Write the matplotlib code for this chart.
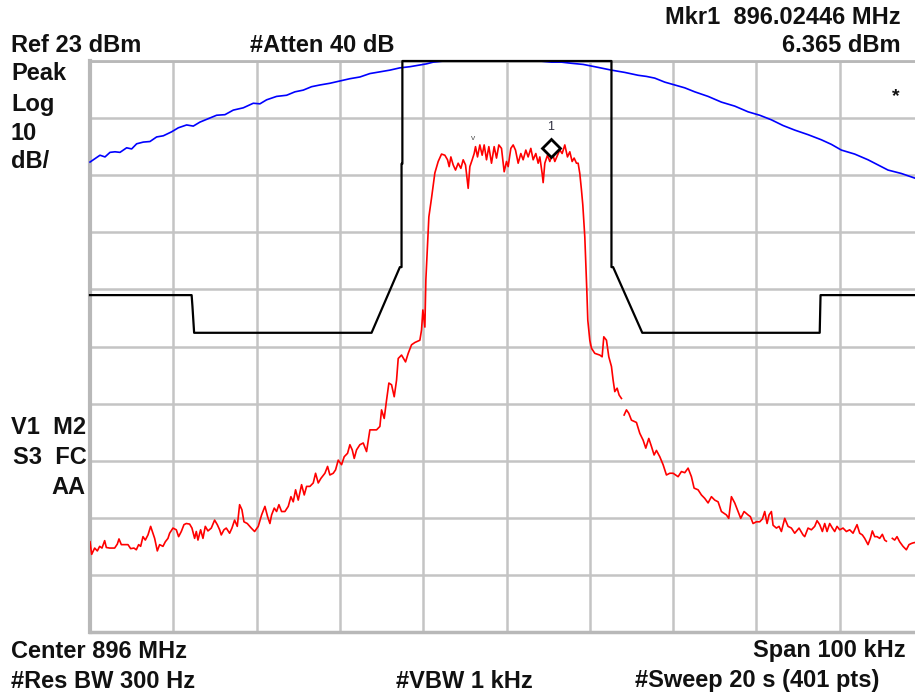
# -*- coding: utf-8 -*-
"""
Spectrum analyzer screen: channel trace, limit mask and max-hold sweep.
"""

import matplotlib as mpl
from matplotlib import pyplot as plt

FIGSIZE = [9.15, 6.96]
DPI = 100
RCPARAMS = {
    "font.family": ["Liberation Sans", "DejaVu Sans"],
    "font.weight": "bold",
    "font.size": 17,
}
GAP = float("nan")

# offset from center (kHz) and level (dBm)
BLUE_FREQ = [-50.0, -49.4, -48.8, -48.2, -47.6, -47.0, -46.4, -45.6, -45.0, -44.4,
             -43.6, -42.8, -42.0, -41.2, -40.2, -39.4, -38.4, -37.6, -36.8, -35.8,
             -34.8, -33.8, -32.8, -31.6, -30.4, -29.6, -28.8, -27.6, -26.4, -25.4,
             -24.4, -23.4, -22.4, -21.2, -20.0, -18.8, -17.6, -16.4, -15.2, -14.0,
             -12.8, -11.6, -10.4, -9.6, -8.8, -7.5, 0.0, 4.0, 5.4, 6.6,
             7.8, 9.2, 10.6, 11.6, 12.6, 14.2, 15.8, 16.8, 17.8, 19.0,
             20.2, 21.4, 22.6, 24.2, 25.8, 27.4, 29.0, 30.4, 31.8, 33.2,
             34.6, 36.2, 37.8, 39.0, 40.2, 41.8, 43.4, 44.6, 45.8, 47.4,
             49.0, 50.0]
BLUE_LEVEL = [5.3, 5.9, 6.5, 6.2, 7.0, 7.1, 7.0, 7.8, 7.6, 8.5,
              8.8, 8.9, 9.7, 9.9, 10.6, 11.3, 11.8, 11.6, 12.3, 12.9,
              13.5, 13.6, 14.4, 14.8, 15.6, 15.5, 16.2, 16.8, 17.0, 17.6,
              17.9, 18.5, 18.8, 19.1, 19.5, 19.9, 20.2, 20.8, 21.1, 21.4,
              21.8, 22.0, 22.3, 22.5, 22.8, 23.0, 23.0, 23.0, 22.8, 22.8,
              22.6, 22.4, 22.0, 21.7, 21.4, 21.0, 20.5, 20.3, 20.0, 19.3,
              18.8, 18.3, 17.6, 16.8, 15.8, 15.1, 14.1, 13.5, 12.7, 11.7,
              10.9, 10.1, 9.2, 8.4, 7.4, 6.7, 5.7, 4.8, 3.9, 3.3,
              2.5, 2.0]

RED_FREQ = [
    # lower noise floor
    -50.0, -49.8, -49.44, -49.12, -48.84, -48.56, -48.24, -48.04, -47.64, -47.04,
    -46.72, -46.52, -46.24, -45.84, -45.44, -45.12, -44.72, -44.44, -44.16, -43.92,
    -43.64, -43.36, -43.04, -42.72, -42.44, -42.24, -41.92, -41.64, -41.24, -40.96,
    -40.64, -40.44, -40.04, -39.64, -39.36, -39.04, -38.72, -38.44, -38.04, -37.76,
    -37.44, -37.24, -37.04, -36.72, -36.44, -36.16, -35.84, -35.44, -35.04, -34.72,
    -34.44, -34.24, -33.92, -33.64, -33.24, -32.96, -32.64, -32.32, -32.04, -31.76,
    -31.52, -31.12, -30.64, -30.24, -29.8,
    # lower skirt
    -29.4, -29.0, -28.68, -28.4, -28.2, -27.88, -27.6, -27.32, -27.0, -26.6,
    -26.2, -25.88, -25.6, -25.32, -25.0, -24.6, -24.28, -24.0, -23.6, -23.2,
    -22.92, -22.6, -22.28, -21.8, -21.48, -21.2, -20.8, -20.52, -20.2, -19.8,
    -19.48, -19.08, -18.8, -18.52, -18.28, -18.0, -17.6, -17.2, -16.8, -16.4,
    -16.0, -15.6, -15.2, -15.0, -14.68, -14.4, -14.12, -13.8, -13.48, -13.2,
    -13.0, -12.6, -12.12, -11.8, -11.4, -11.0, -10.4,
    # rising edge
    -10.2, -10.04, -9.8, -9.68, -9.32,
    # channel top
    -9.0, -8.6, -8.2, -7.8, -7.4, -7.08, -6.88, -6.68, -6.4, -6.12,
    -5.8, -5.48, -5.2, -4.92, -4.72, -4.6, -4.4, -4.12, -3.88, -3.72,
    -3.48, -3.2, -2.92, -2.68, -2.4, -2.12, -1.8, -1.48, -1.2, -0.92,
    -0.6, -0.28, 0.0, 0.2, 0.52, 0.8, 1.08, 1.4, 1.72, 2.0,
    2.32, 2.6, 2.92, 3.2, 3.52, 3.8, 4.0, 4.28, 4.4, 4.6,
    4.92, 5.2, 5.52, 5.8, 6.12, 6.4, 6.68, 7.0, 7.32, 7.6,
    7.88, 8.12, 8.4, 8.6, 8.8, 9.0,
    # falling edge
    9.16, 9.4, 9.64, 9.76, 10.0,
    # upper skirt
    10.2, 10.6, 11.2, 11.48, 11.68, 12.0, 12.28, 12.6, 12.8, 13.0,
    13.28, 13.52, 13.8, GAP, 14.12, 14.4, 14.68, 15.0, 15.6, 16.0,
    16.4, 16.72, 17.08, 17.4, 17.72, 18.0, 18.4, 18.8, 19.2, 19.6,
    20.0, 20.6, 21.0, 21.4, 21.8, 22.2, 22.52, 23.0, 23.4, 23.8,
    24.2, 24.6, 25.0, 25.4, 25.8, 26.4, 26.68, 27.0, 27.4, 27.8,
    28.12, 28.52,
    # upper noise floor
    29.0, 29.28, 29.6, 30.0, 30.4, 30.72, 31.0, 31.28, 31.52, 31.8,
    32.0, 32.4, 32.72, 33.0, 33.4, 33.8, 34.2, 34.6, 35.12, 35.6,
    35.8, 36.2, 36.6, 37.0, 37.28, 37.6, 37.92, 38.2, 38.48, 38.8,
    39.12, 39.4, 39.68, 40.0, 40.4, 40.8, 41.2, 41.6, 42.08, 42.4,
    42.72, 43.0, 43.4, 43.68, 43.92, 44.2, 44.48, 44.8, 45.12, 45.4,
    45.6, GAP, 46.32, 46.6, 46.88, 47.2, 47.6, 48.0, 48.32, 48.6,
    48.8, 50.0,
]
RED_LEVEL = [
    -61.2, -63.4, -62.3, -62.8, -62.0, -62.3, -61.0, -62.2, -62.3, -62.3,
    -61.6, -60.7, -61.7, -61.7, -61.7, -62.4, -62.3, -62.6, -61.7, -62.0,
    -60.3, -60.9, -60.0, -58.5, -59.7, -60.6, -62.8, -61.7, -62.0, -61.2,
    -60.6, -59.7, -58.8, -59.1, -60.3, -59.4, -58.2, -58.0, -58.1, -58.8,
    -60.6, -59.4, -60.9, -59.1, -60.6, -58.5, -59.3, -58.8, -57.4, -58.2,
    -59.1, -60.0, -59.1, -58.8, -59.7, -58.8, -57.4, -58.5, -54.7, -55.6,
    -57.7, -58.0, -58.8, -59.4, -58.5,
    -56.5, -55.0, -56.8, -58.0, -56.5, -55.3, -55.9, -54.7, -55.9, -55.9,
    -55.0, -53.3, -54.2, -52.1, -53.9, -51.2, -53.0, -51.5, -51.5, -50.9,
    -49.2, -50.9, -50.1, -49.2, -48.0, -49.5, -49.2, -48.6, -46.9, -47.7,
    -46.3, -45.7, -44.2, -45.1, -46.6, -45.1, -44.2, -43.9, -45.4, -41.6,
    -41.6, -41.6, -41.0, -38.1, -39.6, -36.4, -33.4, -33.7, -35.8, -32.9,
    -29.1, -28.5, -29.7, -28.2, -26.7, -26.3, -25.9,
    -24.1, -20.6, -23.6, -15.3, -4.3,
    -1.0, 3.4, 5.4, 6.7, 6.5, 5.7, 4.5, 6.2, 4.8, 3.9,
    5.1, 4.2, 5.7, 4.8, 2.2, 0.7, 4.5, 5.7, 6.8, 8.0,
    6.2, 8.3, 6.5, 8.3, 5.7, 8.0, 5.1, 8.0, 6.0, 8.3,
    7.7, 3.6, 5.4, 4.5, 7.7, 8.3, 7.4, 5.1, 6.8, 5.7,
    7.4, 6.2, 7.7, 5.7, 6.8, 5.1, 6.2, 3.3, 1.7, 5.1,
    6.5, 5.4, 6.8, 5.4, 6.5, 7.4, 6.8, 8.3, 6.2, 7.1,
    5.4, 6.0, 5.1, 5.1, 3.3, 0.4,
    -2.2, -7.8, -17.1, -22.4, -25.9,
    -27.3, -28.2, -28.5, -28.8, -25.3, -25.9, -28.8, -30.5, -32.9, -34.9,
    -34.3, -35.5, -36.1, GAP, -39.0, -38.1, -38.7, -39.9, -40.3, -42.2,
    -43.4, -44.8, -43.1, -44.5, -46.0, -45.2, -46.3, -47.7, -49.5, -49.2,
    -49.2, -49.8, -48.9, -49.1, -48.3, -49.8, -51.8, -52.1, -53.0, -53.6,
    -54.4, -53.3, -53.9, -54.2, -55.9, -56.5, -57.1, -53.3, -54.4, -55.9,
    -57.1, -55.9,
    -56.5, -56.8, -58.0, -57.7, -57.7, -57.2, -55.9, -58.0, -56.5, -55.9,
    -58.3, -58.8, -58.5, -59.4, -57.1, -58.5, -58.8, -59.7, -58.8, -60.0,
    -60.3, -58.8, -59.1, -58.5, -57.5, -58.2, -59.4, -58.0, -59.4, -58.0,
    -58.8, -59.4, -58.5, -59.1, -58.8, -59.4, -59.1, -59.7, -58.2, -59.7,
    -60.0, -60.6, -61.7, -60.6, -59.3, -60.3, -60.3, -60.6, -59.9, -60.9,
    -61.1, GAP, -60.6, -60.9, -60.3, -61.2, -62.0, -62.6, -61.7, -61.5,
    -61.4, -61.0,
]

MASK_FREQ = [-50.0, -37.8, -37.7, -37.5, -16.2, -12.8, -12.6, -12.6, -12.5, -12.5,
             12.6, 12.6, 12.8, 16.3, 37.6, 37.7, 50.0]
MASK_LEVEL = [-18.0, -18.0, -20.0, -24.6, -24.6, -13.1, -13.1, 5.0, 5.0, 23.0,
              23.0, -13.1, -13.1, -24.6, -24.6, -18.0, -18.0]

MARKER_FREQ = 5.3
MARKER_LEVEL = 7.8

HEADER_TEXT = [
    ("Mkr1  896.02446 MHz", 901, 17, "right"),
    ("Ref 23 dBm", 11, 46, "left"),
    ("#Atten 40 dB", 250, 46, "left"),
    ("6.365 dBm", 901, 46, "right"),
    ("Peak", 11, 74, "left"),
    ("Log", 11, 104, "left"),
    ("10", 11, 133, "left"),
    ("dB/", 11, 162, "left"),
    ("V1  M2", 11, 428, "left"),
    ("S3  FC", 13, 458, "left"),
    ("AA", 85, 487, "right"),
    ("Center 896 MHz", 11, 651, "left"),
    ("Span 100 kHz", 906, 651, "right"),
    ("#Res BW 300 Hz", 11, 681, "left"),
    ("#VBW 1 kHz", 396, 681, "left"),
    ("#Sweep 20 s (401 pts)", 635, 681, "left"),
]


def main():
    for key in RCPARAMS:
        mpl.rcParams[key] = RCPARAMS[key]
    W, H = FIGSIZE[0] * DPI, FIGSIZE[1] * DPI
    fig = plt.figure(figsize=FIGSIZE, dpi=DPI)
    # graticule is 10 divisions wide, right edge runs past the picture
    ax = fig.add_axes([90 / W, 1 - 632 / H, 833 / W, 571 / H])
    ax.set_xlim(-50, 50)
    ax.set_ylim(-77, 23)
    ax.set_xticks(range(-50, 51, 10))
    ax.set_yticks(range(-77, 24, 10))
    ax.tick_params(length=0, labelbottom=False, labelleft=False)
    ax.grid(True, color="#c4c4c4", linewidth=1.8)
    ax.set_axisbelow(True)
    for side, lw in [("left", 3), ("bottom", 2.5), ("top", 2), ("right", 2)]:
        ax.spines[side].set_color("#b8b8b8")
        ax.spines[side].set_linewidth(lw)

    ax.plot(BLUE_FREQ, BLUE_LEVEL, color="#0000ff", linewidth=1.2, clip_on=False, zorder=3)
    ax.plot(MASK_FREQ, MASK_LEVEL, color="#000000", linewidth=1.6, clip_on=False, zorder=4)
    ax.plot(RED_FREQ, RED_LEVEL, color="#ff0000", linewidth=1.2, zorder=5)
    ax.plot([MARKER_FREQ], [MARKER_LEVEL], marker="D", markersize=9,
            markerfacecolor="white", markeredgecolor="black", markeredgewidth=2, zorder=6)
    ax.text(MARKER_FREQ, MARKER_LEVEL + 3.6, "1", fontsize=9, fontweight="normal",
            color="#303040", ha="center", va="center", zorder=6)
    ax.text(-4.0, 9.5, "v", fontsize=6, fontweight="normal", color="#505050",
            ha="center", va="center", zorder=6)

    for text, x, y, ha in HEADER_TEXT:
        fig.text(x / W, 1 - y / H, text, ha=ha, va="center", color="#111111")
    fig.text(896 / W, 1 - 97 / H, "*", ha="center", va="center", fontsize=14, color="#111111")

    fig.savefig("out.png", dpi=DPI)
    plt.close(fig=fig)


if __name__ == "__main__":
    main()
